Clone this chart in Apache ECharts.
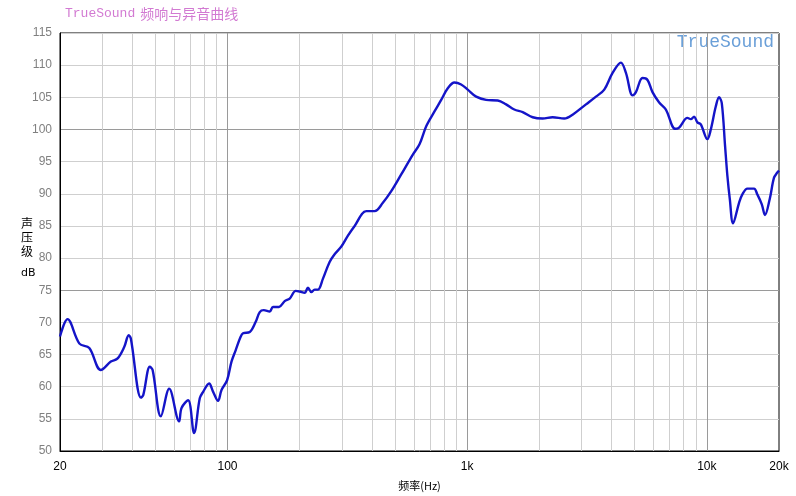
<!DOCTYPE html>
<html>
<head>
<meta charset="utf-8">
<script src="https://cdn.jsdelivr.net/npm/echarts@6/dist/echarts.min.js"></script>
<style>html,body{margin:0;padding:0;background:#fff}#c{width:796px;height:496px}</style>
</head>
<body>
<div id="c"></div>
<script>
const freqs = [20,21.5,24.1,26.5,29.6,32.6,34.8,37.1,38.7,39.5,43.5,44.5,47.4,48.7,52.7,57.1,62.8,64.3,68.5,72.5,76.6,79.1,83.8,87.1,91.3,94.4,99.6,103.9,108.2,113.2,116.1,123.8,131.1,136.3,141.6,150,154.8,164,173.2,181.7,192.5,200,209.8,216.6,223.8,231,238.5,250.2,266.7,279.8,298.5,318,339.2,379.3,410.8,444.8,482.2,530.6,593.2,632.5,674.6,730.4,779,829.8,884.8,943.6,1005,1090,1199,1341,1453,1573,1704,1876,2064,2272,2542,2753,3131,3446,3732,4043,4380,4596,4897,5058,5389,5655,5932,6325,6746,7374,7662,8298,8574,8848,9133,9436,10054,10387,10900,11247,11542,11914,12180,12465,12865,13626,14066,14757,15733,16241,16940,17486,18299,19065,19676,20000];
const spl = [67.8,70.5,66.7,66.0,62.6,63.9,64.4,66.2,68.0,67.5,58.3,58.7,63.1,62.6,55.4,59.7,54.6,56.7,57.9,52.8,58.2,59.2,60.5,59.2,57.8,59.5,61.0,63.9,65.7,67.7,68.3,68.5,70.1,71.6,71.9,71.7,72.4,72.4,73.3,73.7,74.9,74.8,74.6,75.4,74.7,75.1,75.1,76.8,79.4,80.6,81.8,83.5,85.0,87.3,87.3,88.6,90.4,93.0,96.1,97.7,100.5,102.8,104.6,106.4,107.3,107.0,106.2,105.1,104.6,104.5,103.9,103.1,102.7,101.9,101.7,101.9,101.7,102.3,103.9,105.1,106.2,108.8,110.4,108.8,105.3,105.8,108.0,107.7,105.8,104.2,103.1,100.1,100.3,101.8,101.6,102.0,101.1,100.8,98.5,100.0,103.6,105.0,104.1,97.4,92.8,89.2,85.4,88.6,89.9,90.8,90.8,89.9,88.4,86.7,89.2,92.5,93.3,93.6];
const minorGridFreqs = [30,40,50,60,70,80,90,200,300,400,500,600,700,800,900,2000,3000,4000,5000,6000,7000,8000,9000];
const majorGridFreqs = [100,1000,10000];
const titleMain = 'TrueSound';
const titleSub = '频响与异音曲线';
const xName = '频率(Hz)';
const yName = '声\n压\n级';
const yUnit = 'dB';
const watermark = 'TrueSound';

const chart = echarts.init(document.getElementById('c'));
chart.setOption({
  backgroundColor: '#fff',
  animation: false,
  title: {
    text: '{a|' + titleMain + '} {b|' + titleSub + '}',
    left: 60, top: 0,
    textStyle: {
      fontWeight: 'normal',
      rich: {
        a: {fontFamily: 'Liberation Mono', fontSize: 13, color: '#d27ad2', fontWeight: 'normal'},
        b: {fontFamily: 'Noto Sans CJK SC', fontSize: 14, color: '#d27ad2', fontWeight: 'normal'}
      }
    }
  },
  graphic: [
    {type: 'text', right: 22, top: 33, style: {text: watermark, font: '18px "Liberation Mono"', fill: '#6a9fd8'}},
    {type: 'text', left: 21, top: 216, style: {text: yName, font: '12px "Noto Sans CJK SC"', fill: '#000', lineHeight: 14}},
    {type: 'text', left: 21, top: 268, style: {text: yUnit, font: '11px "DejaVu Sans"', fill: '#000'}}
  ],
  grid: {left: 60, right: 17, top: 33, bottom: 43, show: true, borderColor: '#000', borderWidth: 1, backgroundColor: '#fff'},
  xAxis: {
    type: 'log', logBase: 10, min: 20, max: 20000,
    name: xName, nameLocation: 'middle', nameGap: 29,
    nameTextStyle: {fontFamily: 'Noto Sans CJK SC', fontSize: 11, color: '#000'},
    axisLine: {lineStyle: {color: '#000', width: 1}},
    axisTick: {show: false},
    splitLine: {show: false},
    minorTick: {show: false}, minorSplitLine: {show: false},
    axisLabel: {
      color: '#000', fontFamily: 'Liberation Sans', fontSize: 12, margin: 10,
      formatter: function (v) { v = Math.round(v); return v >= 1000 ? (v / 1000) + 'k' : String(v); }
    }
  },
  yAxis: {
    type: 'value', min: 50, max: 115, interval: 5,
    axisLine: {show: true, lineStyle: {color: '#000', width: 1}},
    axisTick: {show: false},
    axisLabel: {color: '#808080', fontFamily: 'Liberation Sans', fontSize: 12, margin: 8},
    splitLine: {show: true, lineStyle: {color: ['#9a9a9a', '#cfcfcf', '#cfcfcf', '#cfcfcf', '#cfcfcf'], width: 1}}
  },
  series: [
    {
      type: 'line', data: [], z: 1, silent: true,
      markLine: {
        silent: true, symbol: 'none', label: {show: false}, animation: false,
        lineStyle: {color: '#cfcfcf', type: 'solid', width: 1},
        data: minorGridFreqs.map(f => ({xAxis: f}))
      }
    },
    {
      type: 'line', data: [], z: 1, silent: true,
      markLine: {
        silent: true, symbol: 'none', label: {show: false}, animation: false,
        lineStyle: {color: '#9a9a9a', type: 'solid', width: 1},
        data: majorGridFreqs.map(f => ({xAxis: f}))
      }
    },
    {
      type: 'line', z: 5,
      data: freqs.map((f, i) => [f, spl[i]]),
      showSymbol: false, smooth: 0.35,
      lineStyle: {color: '#1414c8', width: 2.4}
    }
  ]
});
</script>
</body>
</html>
